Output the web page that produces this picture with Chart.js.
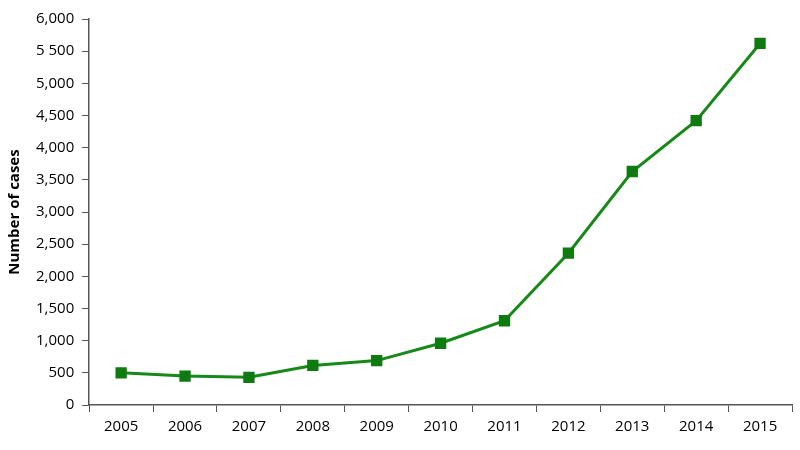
<!DOCTYPE html>
<html>
<head>
<script src="https://cdn.jsdelivr.net/npm/chart.js"></script>
<style>
body { margin: 0; background: white; }
#wrap { width: 800px; height: 450px; }
</style>
</head>
<body>
<div id="wrap"><canvas id="casesChart"></canvas></div>
<script>
const years = ["2005","2006","2007","2008","2009","2010","2011","2012","2013","2014","2015"];
const cases = [500, 450, 430, 615, 690, 960, 1310, 2360, 3630, 4420, 5620];
const yTickLabels = ["0","500","1,000","1,500","2,000","2,500","3,000","3,500","4,000","4,500","5,000","5 500","6,000"];

Chart.defaults.font.family = "'Open Sans', 'Liberation Sans', sans-serif";
Chart.defaults.color = "#000";

new Chart(casesChart, {
  type: 'line',
  data: {
    labels: years,
    datasets: [{
      data: cases,
      borderColor: '#168a16',
      backgroundColor: '#0f7a0f',
      borderWidth: 3,
      pointStyle: 'rect',
      pointRadius: 8,
      pointBorderWidth: 0,
      tension: 0
    }]
  },
  options: {
    responsive: true,
    maintainAspectRatio: false,
    animation: false,
    layout: { padding: { top: 19, right: 3, left: 2, bottom: 8 } },
    plugins: { legend: { display: false }, tooltip: { enabled: false } },
    scales: {
      x: {
        offset: true,
        grid: { drawOnChartArea: false, drawTicks: true, offset: true, tickLength: 7, color: '#555' },
        border: { color: '#555', width: 1.5 },
        ticks: { font: { size: 15 }, padding: 6 }
      },
      y: {
        min: 0, max: 6000,
        grid: { drawOnChartArea: false, tickLength: 7, color: '#555' },
        border: { color: '#555', width: 1.5 },
        ticks: {
          stepSize: 500,
          font: { size: 15 },
          padding: 8,
          callback: (v, i) => yTickLabels[i]
        },
        title: { display: true, text: 'Number of cases', font: { size: 15, weight: 'bold' } }
      }
    }
  }
});
</script>
</body>
</html>
